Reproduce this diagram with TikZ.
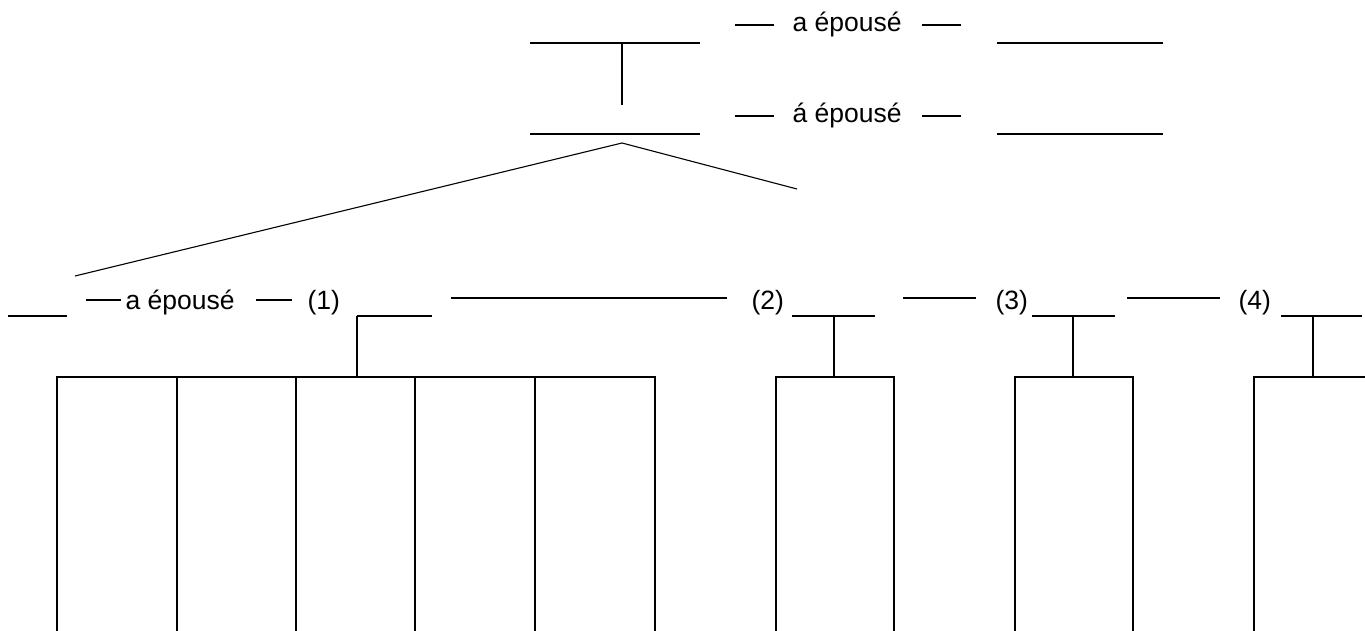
\documentclass[tikz,border=0pt]{standalone}
\usepackage{fontspec}
\setmainfont{Liberation Sans}
\begin{document}
\begin{tikzpicture}[x=1pt,y=-1pt,line width=1.1pt,
  lbl/.style={inner sep=0pt,anchor=base west,font=\fontsize{26.5}{30}\selectfont},
  blank/.style={line width=1.1pt},
  tie/.style={line width=1.1pt}]
\useasboundingbox (0,0) rectangle (1365,631);
% top generation
\coordinate (a1) at (530,43); \coordinate (a2) at (700,43);
\coordinate (b1) at (530,134); \coordinate (b2) at (700,134);
\coordinate (c1) at (997,43); \coordinate (c2) at (1163,43);
\coordinate (d1) at (997,134); \coordinate (d2) at (1163,134);
\draw[blank] (a1) -- (a2); \draw[blank] (b1) -- (b2);
\draw[blank] (c1) -- (c2); \draw[blank] (d1) -- (d2);
\coordinate (av) at (622,43); \coordinate (avb) at (622,105);
\draw[tie] (av) -- (avb);
\node[lbl] (t1) at (792,32) {a épousé};
\node[lbl] (t2) at (792,123) {á épousé};
\coordinate (t1l1) at (735,25); \coordinate (t1l2) at (774,25);
\coordinate (t1r1) at (922,25); \coordinate (t1r2) at (961,25);
\draw (t1l1) -- (t1l2); \draw (t1r1) -- (t1r2);
\coordinate (t2l1) at (735,116); \coordinate (t2l2) at (774,116);
\coordinate (t2r1) at (922,116); \coordinate (t2r2) at (961,116);
\draw (t2l1) -- (t2l2); \draw (t2r1) -- (t2r2);
% spread
\coordinate (apex) at (622,143); \coordinate (sl) at (75,276); \coordinate (sr) at (797,189);
\draw (sl) -- (apex) -- (sr);
% middle generation
\coordinate (m0a) at (8,316); \coordinate (m0b) at (67,316);
\draw[blank] (m0a) -- (m0b);
\coordinate (md1) at (86,300); \coordinate (md2) at (121,300);
\draw (md1) -- (md2);
\node[lbl] (t3) at (125,309) {a épousé};
\coordinate (md3) at (256,300); \coordinate (md4) at (292,300);
\draw (md3) -- (md4);
\node[lbl] (n1) at (307,309) {(1)};
\coordinate (m1a) at (357,316); \coordinate (m1b) at (432,316);
\draw[blank] (m1a) -- (m1b);
\coordinate (lg1) at (451,298); \coordinate (lg2) at (727,298);
\draw (lg1) -- (lg2);
\node[lbl] (n2) at (751,309) {(2)};
\coordinate (m2a) at (792,316); \coordinate (m2b) at (875,316);
\draw[blank] (m2a) -- (m2b);
\coordinate (lg3) at (903,298); \coordinate (lg4) at (976,298);
\draw (lg3) -- (lg4);
\node[lbl] (n3) at (995,309) {(3)};
\coordinate (m3a) at (1032,316); \coordinate (m3b) at (1115,316);
\draw[blank] (m3a) -- (m3b);
\coordinate (lg5) at (1127,298); \coordinate (lg6) at (1220,298);
\draw (lg5) -- (lg6);
\node[lbl] (n4) at (1238,309) {(4)};
\coordinate (m4a) at (1281,316); \coordinate (m4b) at (1362,316);
\draw[blank] (m4a) -- (m4b);
% children of (1)
\coordinate (k1) at (357,377);
\draw (m1a) -- (k1);
\draw (57,640) -- (57,377) -- (655,377) -- (655,640);
\foreach \x in {177,296,415,535} \draw (\x,377) -- (\x,640);
% children of (2),(3),(4)
\foreach \v/\l in {834/776,1073/1015,1313/1254}{
  \draw (\v,316) -- (\v,377);
  \draw (\l,640) -- (\l,377) -- ({\l+118},377) -- ({\l+118},640);
}
\end{tikzpicture}
\end{document}
